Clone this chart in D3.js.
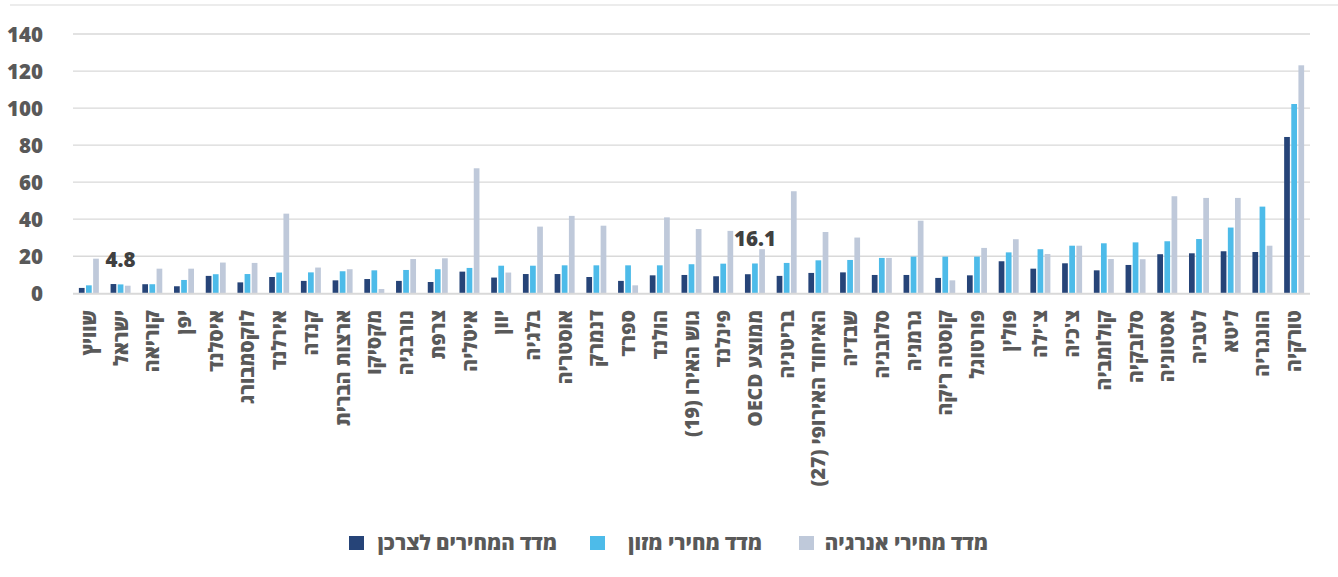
<!DOCTYPE html>
<html lang="he">
<head>
<meta charset="utf-8">
<script src="https://cdn.jsdelivr.net/npm/d3@7"></script>
<style>
  html, body { margin: 0; padding: 0; background: #ffffff; }
  svg { display: block; }
  text { font-family: "Open Sans", "DejaVu Sans", "Liberation Sans", sans-serif; font-weight: 800; }
</style>
</head>
<body>
<svg id="chart" width="1338" height="577"></svg>
<script>
// ---- data ----
const categories = ["שוויץ","ישראל","קוריאה","יפן","איסלנד","לוקסמבורג","אירלנד","קנדה","ארצות הברית","מקסיקו","נורבגיה","צרפת","איטליה","יוון","בלגיה","אוסטריה","דנמרק","ספרד","הולנד","גוש האירו (19)","פינלנד","ממוצע OECD","בריטניה","האיחוד האירופי (27)","שבדיה","סלובניה","גרמניה","קוסטה ריקה","פורטוגל","פולין","צ'ילה","צ'כיה","קולומביה","סלובקיה","אסטוניה","לטביה","ליטא","הונגריה","טורקיה"];
const cpi    = [2.9,5.0,4.9,3.8,9.4,5.9,8.8,6.7,7.0,7.7,6.7,6.1,11.7,8.5,10.4,10.4,8.8,6.7,9.7,9.9,9.2,10.3,9.4,11.0,11.3,9.9,9.9,8.3,9.7,17.3,13.3,16.2,12.4,15.3,21.1,21.6,22.7,22.3,84.4];
const food   = [4.3,4.8,4.9,7.2,10.3,10.4,11.2,11.3,11.9,12.4,12.6,13.0,13.7,14.9,14.9,15.1,15.1,15.1,15.1,15.7,16.0,16.1,16.4,17.8,18.0,19.1,19.8,19.8,19.8,22.1,23.8,25.7,27.0,27.5,28.1,29.3,35.5,46.8,102.2];
const energy = [18.7,4.1,13.3,13.3,16.6,16.4,43.0,13.9,13.0,2.3,18.5,18.9,67.5,11.2,36.0,41.8,36.5,4.3,41.0,34.7,33.7,23.8,55.1,33.1,30.1,19.1,39.2,7.0,24.5,29.2,21.2,25.7,18.5,18.4,52.4,51.5,51.5,25.7,123.1];
const seriesNames = ["מדד המחירים לצרכן","מדד מחירי מזון","מדד מחירי אנרגיה"];
const seriesColors = ["#264478","#4DBBE9","#BFC9DA"];
const yTicks = [0,20,40,60,80,100,120,140];
const labeled = [ {cat:"ישראל", series:1, text:"4.8"}, {cat:"ממוצע OECD", series:1, text:"16.1"} ];

// ---- build ----
const svg = d3.select("#chart");
const seriesValues = [cpi, food, energy];
const rows = categories.map((c,i) => ({cat:c, vals: seriesValues.map(s => s[i])}));

const plotLeft = 73, plotRight = 1310, plotTop = 34, plotBottom = 293.3;
const x0 = d3.scaleBand().domain(categories).range([plotLeft, plotRight]).paddingInner(0.37).paddingOuter(0.185);
const x1 = d3.scaleBand().domain(d3.range(3)).range([0, x0.bandwidth()]).paddingInner(0.2);
const y = d3.scaleLinear().domain([0,140]).range([plotBottom, plotTop]);
const FONT = '"Open Sans", "DejaVu Sans", sans-serif';

// top border line
svg.append("line").attr("x1",10).attr("x2",1338).attr("y1",5).attr("y2",5)
  .attr("stroke","#d9d9d9").attr("stroke-width",1.2);

// gridlines
svg.append("g").selectAll("line").data(yTicks.filter(t => t>0)).join("line")
  .attr("x1",plotLeft).attr("x2",plotRight)
  .attr("y1",d=>y(d)).attr("y2",d=>y(d))
  .attr("stroke","#d9d9d9").attr("stroke-width",1.3);

// y axis labels
const yAxis = d3.axisLeft(y).tickValues(yTicks).tickSize(0).tickPadding(0);
const yg = svg.append("g").attr("transform","translate(43,0)").call(yAxis);
yg.select(".domain").remove();
yg.selectAll("text").attr("fill","#595959").style("font-size","20.5px").style("font-weight","800")
  .style("font-family",FONT)
  .attr("dy","0.36em");

// bars
const groups = svg.append("g").selectAll("g").data(rows).join("g")
  .attr("transform", d => `translate(${x0(d.cat)},0)`);
groups.selectAll("rect").data(d => d.vals.map((v,k)=>({v,k}))).join("rect")
  .attr("x", d => x1(d.k))
  .attr("width", x1.bandwidth())
  .attr("y", d => y(d.v))
  .attr("height", d => y(0) - y(d.v))
  .attr("fill", d => seriesColors[d.k]);

// baseline axis
svg.append("line").attr("x1",plotLeft).attr("x2",plotRight).attr("y1",y(0)+0.5).attr("y2",y(0)+0.5)
  .attr("stroke","#d9d9d9").attr("stroke-width",2);

// x labels
const xAxis = d3.axisBottom(x0).tickSize(0).tickPadding(0);
const xg = svg.append("g").attr("transform","translate(0,310)").call(xAxis);
xg.select(".domain").remove();
xg.selectAll("text")
  .attr("transform","rotate(-90)")
  .attr("x",0).attr("y",0).attr("dy","0.36em")
  .attr("direction","rtl")
  .style("direction","rtl")
  .style("unicode-bidi","embed")
  .attr("text-anchor","start")
  .attr("fill","#595959")
  .style("font-family",FONT)
  .style("font-size","19.5px").style("font-weight","800");

// data labels
svg.append("g").selectAll("text").data(labeled).join("text")
  .attr("x", d => x0(d.cat) + x1(d.series) + x1.bandwidth()/2)
  .attr("y", d => y(seriesValues[d.series][categories.indexOf(d.cat)]) - 17)
  .attr("text-anchor","middle")
  .attr("fill","#404040")
  .style("font-size","20.5px")
  .text(d => d.text);

// legend
const legendItems = [
  {k:0, sx:349, tx:557},
  {k:1, sx:590, tx:762},
  {k:2, sx:799, tx:988}
];
const lg = svg.append("g");
legendItems.forEach(it => {
  lg.append("rect").attr("x",it.sx).attr("y",536).attr("width",15).attr("height",14).attr("fill",seriesColors[it.k]);
  lg.append("text").attr("x",it.tx).attr("y",550)
    .attr("direction","rtl").style("direction","rtl").style("unicode-bidi","embed")
    .attr("text-anchor","start")
    .attr("fill","#595959").style("font-size","20.5px")
    .text(seriesNames[it.k]);
});
</script>
</body>
</html>
